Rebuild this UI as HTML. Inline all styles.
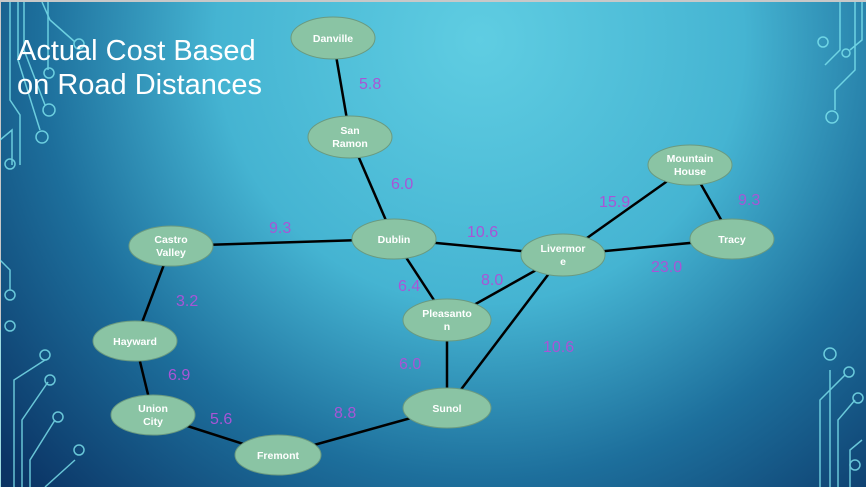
<!DOCTYPE html>
<html><head><style>
html,body{margin:0;padding:0;}
body{width:866px;height:487px;overflow:hidden;font-family:"Liberation Sans",sans-serif;}
</style></head><body>
<svg width="866" height="487" xmlns="http://www.w3.org/2000/svg" style="display:block">
<defs>
<radialGradient id="bg" cx="480" cy="40" r="880" gradientUnits="userSpaceOnUse">
<stop offset="0" stop-color="#5fcde2"/>
<stop offset="0.3" stop-color="#45b4d2"/>
<stop offset="0.5" stop-color="#1d6f9c"/>
<stop offset="0.72" stop-color="#0b3566"/>
<stop offset="1" stop-color="#051a40"/>
</radialGradient>
</defs>
<rect width="866" height="487" fill="url(#bg)"/>
<rect x="0" y="0" width="866" height="2" fill="#c8c8c8"/>
<rect x="0" y="0" width="1" height="487" fill="#c8c8c8"/>
<g stroke="#7fe6f0" stroke-width="1.5" fill="none" opacity="0.8">
<path d="M10 2 V100 L20 115 V165"/><circle cx="10" cy="164" r="5"/>
<path d="M18 2 V60 L40 130"/><circle cx="42" cy="137" r="6"/>
<path d="M24 2 V50 L45 105"/><circle cx="49" cy="110" r="6"/>
<path d="M42 2 L50 20 L75 42"/><circle cx="79" cy="44" r="5"/>
<path d="M48 2 V70"/><circle cx="49" cy="73" r="5"/>
<path d="M0 140 L12 130 V165"/>
<path d="M0 260 L10 270 V290"/><circle cx="10" cy="295" r="5"/>
<path d="M0 330 V487"/><circle cx="10" cy="326" r="5"/>
<path d="M14 487 V380 L45 360"/><circle cx="45" cy="355" r="5"/>
<path d="M22 487 V420 L48 382"/><circle cx="50" cy="380" r="5"/>
<path d="M30 487 V460 L55 420"/><circle cx="58" cy="417" r="5"/>
<path d="M45 487 L75 460"/><circle cx="79" cy="450" r="5"/>
<path d="M840 2 V50 L825 65"/><circle cx="823" cy="42" r="5"/>
<path d="M855 2 V70 L835 90 V110"/><circle cx="832" cy="117" r="6"/>
<path d="M862 2 V40 L850 50"/><circle cx="846" cy="53" r="4"/>
<path d="M830 487 V370"/><circle cx="830" cy="354" r="6"/>
<path d="M838 487 V420 L855 400"/><circle cx="858" cy="398" r="5"/>
<path d="M820 487 V400 L845 375"/><circle cx="849" cy="372" r="5"/>
<path d="M850 487 V450 L862 440"/><circle cx="855" cy="465" r="5"/>
</g>
<text x="17" y="60" font-size="29" fill="#fff">Actual Cost Based</text>
<text x="17" y="94" font-size="29" fill="#fff">on Road Distances</text>
<g stroke="#000" stroke-width="2.5">
<line x1="333" y1="38" x2="350" y2="137"/>
<line x1="350" y1="137" x2="394" y2="239"/>
<line x1="171" y1="246" x2="394" y2="239"/>
<line x1="394" y1="239" x2="563" y2="255"/>
<line x1="394" y1="239" x2="447" y2="320"/>
<line x1="563" y1="255" x2="447" y2="320"/>
<line x1="563" y1="255" x2="690" y2="165"/>
<line x1="563" y1="255" x2="732" y2="239"/>
<line x1="690" y1="165" x2="732" y2="239"/>
<line x1="563" y1="255" x2="447" y2="408"/>
<line x1="447" y1="320" x2="447" y2="408"/>
<line x1="171" y1="246" x2="135" y2="341"/>
<line x1="135" y1="341" x2="153" y2="415"/>
<line x1="153" y1="415" x2="278" y2="455"/>
<line x1="278" y1="455" x2="447" y2="408"/>
</g>
<g fill="#8ac4a4" stroke="#6a9a80" stroke-width="1">
<ellipse cx="333" cy="38" rx="42" ry="21"/>
<ellipse cx="350" cy="137" rx="42" ry="21"/>
<ellipse cx="394" cy="239" rx="42" ry="20"/>
<ellipse cx="171" cy="246" rx="42" ry="20"/>
<ellipse cx="563" cy="255" rx="42" ry="21"/>
<ellipse cx="690" cy="165" rx="42" ry="20"/>
<ellipse cx="732" cy="239" rx="42" ry="20"/>
<ellipse cx="447" cy="320" rx="44" ry="21"/>
<ellipse cx="135" cy="341" rx="42" ry="20"/>
<ellipse cx="447" cy="408" rx="44" ry="20"/>
<ellipse cx="153" cy="415" rx="42" ry="20"/>
<ellipse cx="278" cy="455" rx="43" ry="20"/>
</g>
<g fill="#fff" font-size="10.5" font-weight="bold" text-anchor="middle">
<text x="333" y="42">Danville</text>
<text x="350" y="134">San</text><text x="350" y="147">Ramon</text>
<text x="394" y="243">Dublin</text>
<text x="171" y="243">Castro</text><text x="171" y="256">Valley</text>
<text x="563" y="252">Livermor</text><text x="563" y="265">e</text>
<text x="690" y="162">Mountain</text><text x="690" y="175">House</text>
<text x="732" y="243">Tracy</text>
<text x="447" y="317">Pleasanto</text><text x="447" y="330">n</text>
<text x="135" y="345">Hayward</text>
<text x="447" y="412">Sunol</text>
<text x="153" y="412">Union</text><text x="153" y="425">City</text>
<text x="278" y="459">Fremont</text>
</g>
<g fill="#a855d6" font-size="16">
<text x="359" y="89">5.8</text>
<text x="391" y="189">6.0</text>
<text x="269" y="233">9.3</text>
<text x="467" y="237">10.6</text>
<text x="398" y="291">6.4</text>
<text x="481" y="285">8.0</text>
<text x="599" y="207">15.9</text>
<text x="738" y="205">9.3</text>
<text x="651" y="272">23.0</text>
<text x="543" y="352">10.6</text>
<text x="399" y="369">6.0</text>
<text x="176" y="306">3.2</text>
<text x="168" y="380">6.9</text>
<text x="210" y="424">5.6</text>
<text x="334" y="418">8.8</text>
</g>
</svg>
</body></html>
